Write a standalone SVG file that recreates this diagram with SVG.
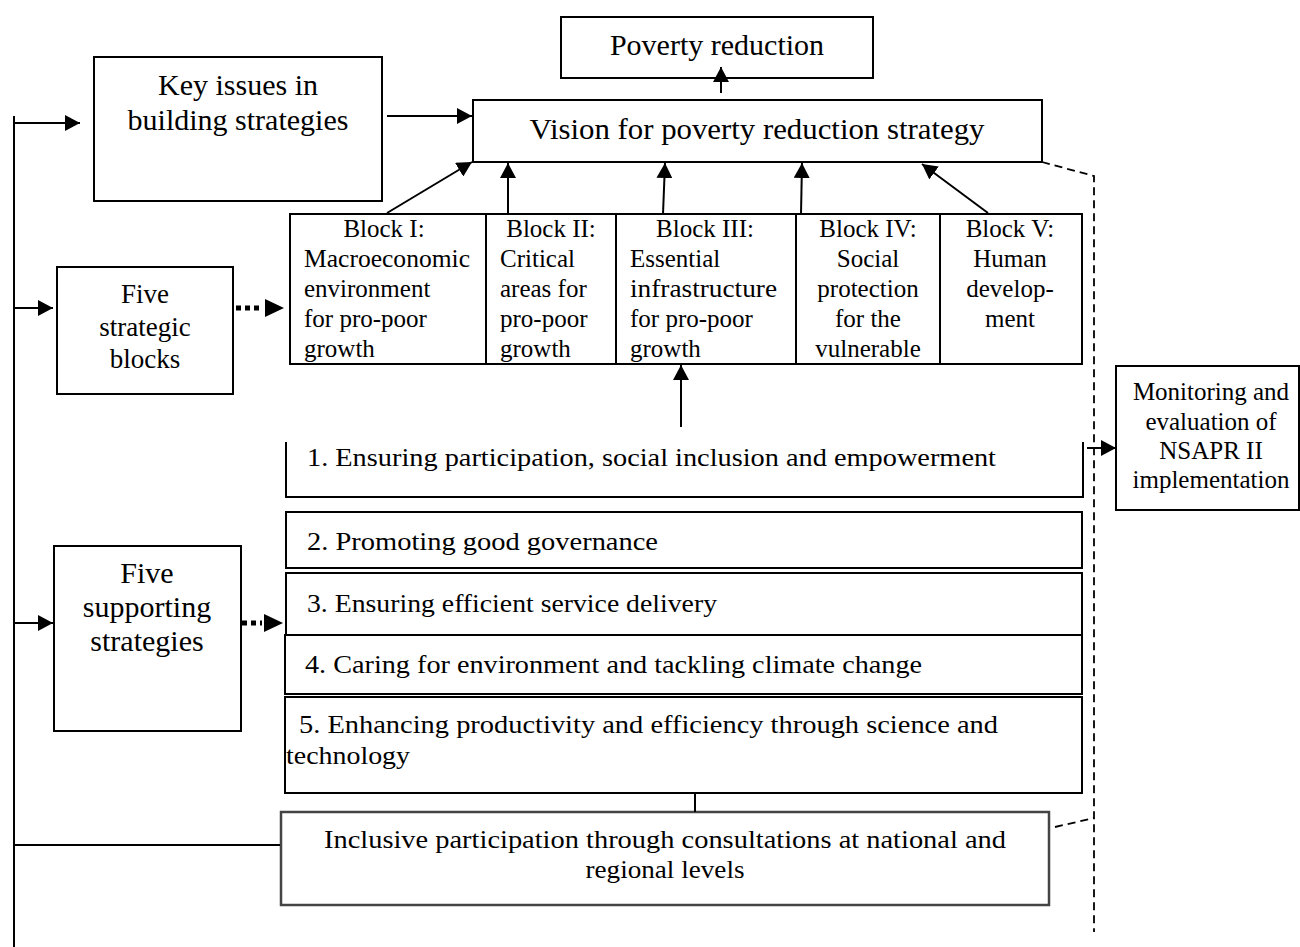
<svg xmlns="http://www.w3.org/2000/svg" width="1300" height="947" viewBox="0 0 1300 947">
<style>
  .box { fill: #fff; stroke: #000; stroke-width: 2; }
  .gbox { fill: #fff; stroke: #444; stroke-width: 2.5; }
  .ln { fill: none; stroke: #000; stroke-width: 2; }
  .dash { fill: none; stroke: #000; stroke-width: 1.8; stroke-dasharray: 8 5; }
  .dots { fill: none; stroke: #000; stroke-width: 5; stroke-dasharray: 5 4; }
  text { font-family: "Liberation Serif", "Times New Roman", serif; fill: #000; }
  .big { font-size: 30px; text-anchor: middle; }
  .mid { font-size: 27px; text-anchor: middle; }
  .blk { font-size: 25px; }
  .c { text-anchor: middle; }
  .strat { font-size: 26px; }
</style>
<defs>
  <marker id="ah" markerUnits="userSpaceOnUse" markerWidth="16" markerHeight="16" refX="15" refY="8" orient="auto">
    <path d="M0,0 L15,8 L0,16 z" fill="#000"/>
  </marker>
</defs>

<g id="poverty-reduction">
  <rect class="box" x="561" y="17" width="312" height="61"/>
  <text class="big" x="717" y="55">Poverty reduction</text>
</g>

<g id="key-issues">
  <rect class="box" x="94" y="57" width="288" height="144"/>
  <text class="big" x="238" y="95">Key issues in</text>
  <text class="big" x="238" y="130">building strategies</text>
</g>

<g id="vision">
  <rect class="box" x="473" y="100" width="569" height="62"/>
  <text class="big" x="757" y="139" textLength="455" lengthAdjust="spacingAndGlyphs">Vision for poverty reduction strategy</text>
</g>

<g id="five-strategic-blocks">
  <rect class="box" x="57" y="267" width="176" height="127"/>
  <text class="mid" x="145" y="303">Five</text>
  <text class="mid" x="145" y="336">strategic</text>
  <text class="mid" x="145" y="368">blocks</text>
</g>

<g id="block-1">
  <rect class="box" x="290" y="214" width="196" height="150"/>
  <text class="blk c" x="384" y="237">Block I:</text>
  <text class="blk" x="304" y="267" textLength="166" lengthAdjust="spacingAndGlyphs">Macroeconomic</text>
  <text class="blk" x="304" y="297">environment</text>
  <text class="blk" x="304" y="327">for pro-poor</text>
  <text class="blk" x="304" y="357">growth</text>
</g>

<g id="block-2">
  <rect class="box" x="486" y="214" width="130" height="150"/>
  <text class="blk c" x="551" y="237">Block II:</text>
  <text class="blk" x="500" y="267">Critical</text>
  <text class="blk" x="500" y="297">areas for</text>
  <text class="blk" x="500" y="327">pro-poor</text>
  <text class="blk" x="500" y="357">growth</text>
</g>

<g id="block-3">
  <rect class="box" x="616" y="214" width="180" height="150"/>
  <text class="blk c" x="705" y="237">Block III:</text>
  <text class="blk" x="630" y="267">Essential</text>
  <text class="blk" x="630" y="297" textLength="147" lengthAdjust="spacingAndGlyphs">infrastructure</text>
  <text class="blk" x="630" y="327">for pro-poor</text>
  <text class="blk" x="630" y="357">growth</text>
</g>

<g id="block-4">
  <rect class="box" x="796" y="214" width="144" height="150"/>
  <text class="blk c" x="868" y="237">Block IV:</text>
  <text class="blk c" x="868" y="267">Social</text>
  <text class="blk c" x="868" y="297">protection</text>
  <text class="blk c" x="868" y="327">for the</text>
  <text class="blk c" x="868" y="357">vulnerable</text>
</g>

<g id="block-5">
  <rect class="box" x="940" y="214" width="142" height="150"/>
  <text class="blk c" x="1010" y="237">Block V:</text>
  <text class="blk c" x="1010" y="267">Human</text>
  <text class="blk c" x="1010" y="297">develop-</text>
  <text class="blk c" x="1010" y="327">ment</text>
</g>

<g id="monitoring">
  <rect class="box" x="1116" y="366" width="183" height="144"/>
  <text class="blk c" x="1211" y="400">Monitoring and</text>
  <text class="blk c" x="1211" y="430">evaluation of</text>
  <text class="blk c" x="1211" y="459">NSAPR II</text>
  <text class="blk c" x="1211" y="488">implementation</text>
</g>

<g id="strategy-1">
  <polyline class="ln" points="286,442 286,497 1083,497 1083,442"/>
  <text class="strat" x="307" y="466" textLength="689" lengthAdjust="spacingAndGlyphs">1. Ensuring participation, social inclusion and empowerment</text>
</g>

<g id="five-supporting-strategies">
  <rect class="box" x="54" y="546" width="187" height="185"/>
  <text class="big" x="147" y="583" font-size="29">Five</text>
  <text class="big" x="147" y="617" font-size="29">supporting</text>
  <text class="big" x="147" y="651" font-size="29">strategies</text>
</g>

<g id="strategy-2">
  <rect class="box" x="286" y="512" width="796" height="56"/>
  <text class="strat" x="307" y="550" textLength="351" lengthAdjust="spacingAndGlyphs">2. Promoting good governance</text>
</g>

<g id="strategy-3">
  <rect class="box" x="286" y="573" width="796" height="62"/>
  <text class="strat" x="307" y="612" textLength="410" lengthAdjust="spacingAndGlyphs">3. Ensuring efficient service delivery</text>
</g>

<g id="strategy-4">
  <rect class="box" x="285" y="635" width="797" height="59"/>
  <text class="strat" x="305" y="673" textLength="617" lengthAdjust="spacingAndGlyphs">4. Caring for environment and tackling climate change</text>
</g>

<g id="strategy-5">
  <rect class="box" x="285" y="697" width="797" height="96"/>
  <text class="strat" x="299" y="733" textLength="699" lengthAdjust="spacingAndGlyphs">5. Enhancing productivity and efficiency through science and</text>
  <text class="strat" x="286" y="764" textLength="124" lengthAdjust="spacingAndGlyphs">technology</text>
</g>

<g id="inclusive-participation">
  <rect class="gbox" x="281" y="812" width="768" height="93"/>
  <text class="strat c" x="665" y="848" textLength="682" lengthAdjust="spacingAndGlyphs">Inclusive participation through consultations at national and</text>
  <text class="strat c" x="665" y="878" textLength="159" lengthAdjust="spacingAndGlyphs">regional levels</text>
</g>

<g id="connectors">
  <line class="ln" x1="14" y1="116" x2="14" y2="947" stroke-width="2.5"/>
  <line class="ln" x1="14" y1="123" x2="80" y2="123" marker-end="url(#ah)"/>
  <line class="ln" x1="14" y1="308" x2="53" y2="308" marker-end="url(#ah)"/>
  <line class="ln" x1="14" y1="623" x2="53" y2="623" marker-end="url(#ah)"/>
  <line class="ln" x1="14" y1="845" x2="280" y2="845" stroke="#222"/>
  <line class="ln" x1="387" y1="116" x2="472" y2="116" marker-end="url(#ah)"/>
  <line class="ln" x1="721" y1="93" x2="721" y2="67" marker-end="url(#ah)"/>
  <line class="ln" x1="387" y1="213" x2="472" y2="162" marker-end="url(#ah)"/>
  <line class="ln" x1="508" y1="214" x2="508" y2="163" marker-end="url(#ah)"/>
  <line class="ln" x1="663" y1="214" x2="665" y2="163" marker-end="url(#ah)"/>
  <line class="ln" x1="801" y1="214" x2="802" y2="163" marker-end="url(#ah)"/>
  <line class="ln" x1="988" y1="213" x2="922" y2="164" marker-end="url(#ah)"/>
  <line class="ln" x1="681" y1="427" x2="681" y2="365" marker-end="url(#ah)"/>
  <line class="dots" x1="236" y1="308" x2="262" y2="308"/>
  <path d="M265,299 L284,308 L265,317 z" fill="#000"/>
  <line class="dots" x1="242" y1="623" x2="262" y2="623"/>
  <path d="M264,614 L283,623 L264,632 z" fill="#000"/>
  <line class="ln" x1="695" y1="793" x2="695" y2="812"/>
  <polyline class="dash" points="1042,162 1094,176 1094,932"/>
  <line class="dash" x1="1055" y1="827" x2="1094" y2="818"/>
  <line class="ln" x1="1087" y1="448" x2="1116" y2="448" marker-end="url(#ah)"/>
</g>
</svg>
